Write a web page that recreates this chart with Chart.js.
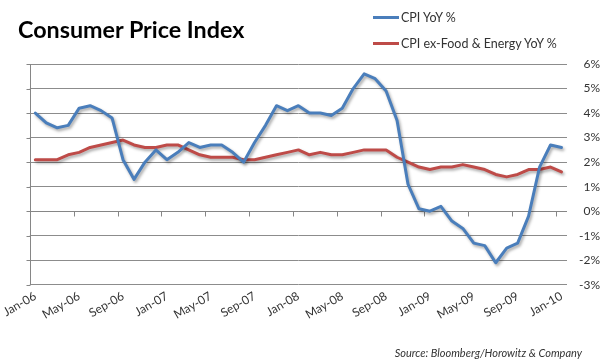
<!DOCTYPE html>
<html>
<head>
<meta charset="utf-8">
<script src="https://cdn.jsdelivr.net/npm/chart.js@4.4.1/dist/chart.umd.min.js"></script>
<style>
  html, body { margin: 0; padding: 0; background: #fff; }
  #wrap { position: relative; width: 610px; height: 364px; font-family: Lato, "Open Sans", sans-serif; color: #333; }
  #chart { position: absolute; left: 0; top: 0; }
  #title { position: absolute; left: 18px; top: 17px; font: bold 23.3px/24px Lato, sans-serif; color: #000; }
  #legend { position: absolute; left: 373px; top: 8px; font-size: 12.5px; }
  #legend .item { display: flex; align-items: center; height: 18px; margin-bottom: 8px; }
  #legend .swatch { width: 26px; height: 3px; margin-right: 2px; }
  #source { position: absolute; right: 28px; top: 346px; font: italic 11px Lato, sans-serif; color: #333; }
</style>
</head>
<body>
<div id="wrap">
  <canvas id="chart" width="610" height="364"></canvas>
  <div id="title">Consumer Price Index</div>
  <div id="legend"></div>
  <div id="source">Source: Bloomberg/Horowitz &amp; Company</div>
</div>
<script>
// ===== DATA =====
const months = [
  'Jan-06','Feb-06','Mar-06','Apr-06','May-06','Jun-06','Jul-06','Aug-06','Sep-06','Oct-06','Nov-06','Dec-06',
  'Jan-07','Feb-07','Mar-07','Apr-07','May-07','Jun-07','Jul-07','Aug-07','Sep-07','Oct-07','Nov-07','Dec-07',
  'Jan-08','Feb-08','Mar-08','Apr-08','May-08','Jun-08','Jul-08','Aug-08','Sep-08','Oct-08','Nov-08','Dec-08',
  'Jan-09','Feb-09','Mar-09','Apr-09','May-09','Jun-09','Jul-09','Aug-09','Sep-09','Oct-09','Nov-09','Dec-09',
  'Jan-10'
];

const cpiYoY = [
  4.0, 3.6, 3.4, 3.5, 4.2, 4.3, 4.1, 3.8, 2.1, 1.3, 2.0, 2.5,
  2.1, 2.4, 2.8, 2.6, 2.7, 2.7, 2.4, 2.0, 2.8, 3.5, 4.3, 4.1,
  4.3, 4.0, 4.0, 3.9, 4.2, 5.0, 5.6, 5.4, 4.9, 3.7, 1.1, 0.1,
  0.0, 0.2, -0.4, -0.7, -1.3, -1.4, -2.1, -1.5, -1.3, -0.2, 1.8, 2.7,
  2.6
];

const coreYoY = [
  2.1, 2.1, 2.1, 2.3, 2.4, 2.6, 2.7, 2.8, 2.9, 2.7, 2.6, 2.6,
  2.7, 2.7, 2.5, 2.3, 2.2, 2.2, 2.2, 2.1, 2.1, 2.2, 2.3, 2.4,
  2.5, 2.3, 2.4, 2.3, 2.3, 2.4, 2.5, 2.5, 2.5, 2.2, 2.0, 1.8,
  1.7, 1.8, 1.8, 1.9, 1.8, 1.7, 1.5, 1.4, 1.5, 1.7, 1.7, 1.8,
  1.6
];

const seriesNames = ['CPI YoY %', 'CPI ex-Food & Energy YoY %'];
const seriesColors = ['#4a7ebb', '#be4b48'];

const yMin = -3, yMax = 6;
const labelEvery = 4;

// ===== PLUGINS =====
// soft drop shadow under the lines, like the spreadsheet look
const lineShadow = {
  id: 'lineShadow',
  beforeDatasetDraw(chart) {
    const c = chart.ctx;
    c.save();
    c.shadowColor = 'rgba(0,0,0,0.35)';
    c.shadowBlur = 3;
    c.shadowOffsetX = 1.5;
    c.shadowOffsetY = 2;
  },
  afterDatasetDraw(chart) {
    chart.ctx.restore();
  }
};

// left value axis line + category axis crossing at 0%
const axisLines = {
  id: 'axisLines',
  beforeDatasetsDraw(chart) {
    const { ctx, chartArea: a, scales: { x, y } } = chart;
    ctx.save();
    ctx.strokeStyle = '#868686';
    ctx.lineWidth = 1;
    ctx.beginPath();
    const lx = Math.round(a.left) + 0.5;
    ctx.moveTo(lx, a.top);
    ctx.lineTo(lx, a.bottom);
    y.ticks.forEach(t => {
      const py = Math.round(y.getPixelForValue(t.value)) + 0.5;
      ctx.moveTo(lx - 4, py);
      ctx.lineTo(lx, py);
    });
    const y0 = Math.round(y.getPixelForValue(0)) + 0.5;
    ctx.moveTo(a.left, y0);
    ctx.lineTo(a.right, y0);
    const half = (x.getPixelForValue(1) - x.getPixelForValue(0)) / 2;
    months.forEach((m, i) => {
      if (i % labelEvery === 0) {
        const px = Math.round(x.getPixelForValue(i) - half) + 0.5;
        ctx.moveTo(px, y0);
        ctx.lineTo(px, y0 + 5);
      }
    });
    ctx.stroke();
    ctx.restore();
  }
};

// ===== LEGEND (html) =====
const legendEl = document.getElementById('legend');
seriesNames.forEach((name, i) => {
  const item = document.createElement('div');
  item.className = 'item';
  item.innerHTML = '<span class="swatch" style="background:' + seriesColors[i] + '"></span><span></span>';
  item.lastChild.textContent = name;
  legendEl.appendChild(item);
});

// ===== CHART =====
new Chart(document.getElementById('chart'), {
  type: 'line',
  data: {
    labels: months,
    datasets: [
      { label: seriesNames[0], data: cpiYoY, borderColor: seriesColors[0], backgroundColor: seriesColors[0] },
      { label: seriesNames[1], data: coreYoY, borderColor: seriesColors[1], backgroundColor: seriesColors[1] }
    ]
  },
  options: {
    responsive: false,
    animation: false,
    layout: { padding: { top: 64, left: 26, right: 10, bottom: 38 } },
    elements: {
      line: { borderWidth: 3, tension: 0, borderJoinStyle: 'round', borderCapStyle: 'round' },
      point: { radius: 0, hoverRadius: 0 }
    },
    plugins: {
      legend: { display: false },
      title: { display: false },
      tooltip: { enabled: false }
    },
    scales: {
      x: {
        type: 'category',
        offset: true,
        grid: { display: false, drawTicks: false },
        border: { display: false },
        ticks: {
          autoSkip: false,
          minRotation: 30,
          maxRotation: 30,
          padding: 4,
          color: '#333',
          font: { family: 'Lato', size: 12 },
          callback: (v, i) => (i % labelEvery === 0 ? months[i] : '')
        }
      },
      y: {
        position: 'right',
        min: yMin,
        max: yMax,
        grid: { color: '#8c8c8c', drawTicks: false },
        border: { display: false },
        ticks: {
          stepSize: 1,
          padding: 6,
          crossAlign: 'far',
          color: '#333',
          font: { family: 'Lato', size: 12 },
          callback: v => v + '%'
        }
      }
    }
  },
  plugins: [axisLines, lineShadow]
});
</script>
</body>
</html>
